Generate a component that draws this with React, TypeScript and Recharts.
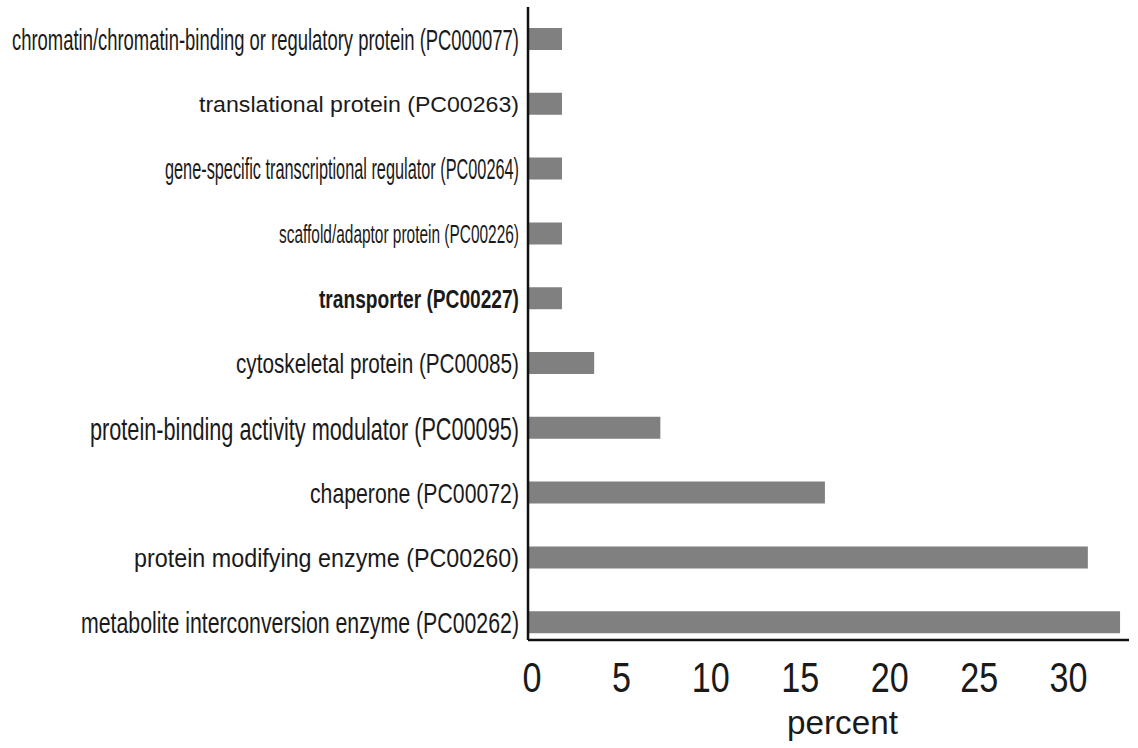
import { BarChart, Bar, XAxis, YAxis } from "recharts";

// ─── Data ─────────────────────────────────────────────────────────────────────

const categories = [
  "chromatin/chromatin-binding or regulatory protein (PC000077)",
  "translational protein (PC00263)",
  "gene-specific transcriptional regulator (PC00264)",
  "scaffold/adaptor protein (PC00226)",
  "transporter (PC00227)",
  "cytoskeletal protein (PC00085)",
  "protein-binding activity modulator (PC00095)",
  "chaperone (PC00072)",
  "protein modifying enzyme (PC00260)",
  "metabolite interconversion enzyme (PC00262)",
];

const percents = [1.9, 1.9, 1.9, 1.9, 1.9, 3.7, 7.4, 16.6, 31.3, 33.1];

const xTicks = [0, 5, 10, 15, 20, 25, 30];

const data = categories.map((name, i) => ({ name, percent: percents[i] }));

// ─── Label styling (the source figure mixes font sizes per row) ───────────────

const FONT = "'Liberation Sans', Arial, sans-serif";

// condensed rows are squeezed with textLength to the widths seen in the figure
const labelStyle = [
  { size: 29, weight: 400, length: 507 },
  { size: 22, weight: 400, length: 320 },
  { size: 29, weight: 400, length: 354 },
  { size: 25, weight: 400, length: 240 },
  { size: 26, weight: 600, length: 200 },
  { size: 28, weight: 400, length: 283 },
  { size: 32, weight: 400, length: 429 },
  { size: 28, weight: 400, length: 209 },
  { size: 25, weight: 400, length: 385 },
  { size: 30, weight: 400, length: 438 },
];

function CategoryTick({ x, y, payload }: any) {
  const i = categories.indexOf(payload.value);
  const s = labelStyle[i] ?? labelStyle[0];
  return (
    <text
      x={x - 1}
      y={y}
      dy="0.36em"
      textAnchor="end"
      fill="#1a1a1a"
      fontFamily={FONT}
      fontSize={s.size}
      fontWeight={s.weight}
      textLength={s.length}
      lengthAdjust="spacingAndGlyphs"
    >
      {payload.value}
    </text>
  );
}

function NumberTick({ x, y, payload }: any) {
  const txt = String(payload.value);
  return (
    <text
      x={x + 4}
      y={y}
      dy="0.71em"
      textAnchor="middle"
      fill="#1a1a1a"
      fontFamily={FONT}
      fontSize={42}
      textLength={19 * txt.length}
      lengthAdjust="spacingAndGlyphs"
    >
      {txt}
    </text>
  );
}

function PercentLabel({ viewBox }: any) {
  const { x, y, width, height } = viewBox;
  return (
    <text
      x={x + width / 2 + 14}
      y={y + height - 14}
      textAnchor="middle"
      fill="#1a1a1a"
      fontFamily={FONT}
      fontSize={34}
      textLength={111}
      lengthAdjust="spacingAndGlyphs"
    >
      percent
    </text>
  );
}

// ─── Component ────────────────────────────────────────────────────────────────

export default function App() {
  return (
    <div style={{ position: "absolute", left: 0, top: 0, width: 1138, height: 748, background: "#fff" }}>
      <BarChart
        width={1138}
        height={748}
        data={data}
        layout="vertical"
        margin={{ top: 7, right: 9, bottom: 0, left: 0 }}
      >
        <XAxis
          type="number"
          domain={[0, 33.6]}
          ticks={xTicks}
          allowDataOverflow
          height={108}
          axisLine={{ stroke: "#111", strokeWidth: 2.5 }}
          tickLine={false}
          tickMargin={16}
          tick={<NumberTick />}
          label={<PercentLabel />}
        />
        <YAxis
          type="category"
          dataKey="name"
          width={528}
          padding={{ top: 0, bottom: -15 }}
          axisLine={{ stroke: "#111", strokeWidth: 2.5 }}
          tickLine={false}
          interval={0}
          tick={<CategoryTick />}
        />
        <Bar dataKey="percent" fill="#808080" barSize={22} isAnimationActive={false} />
      </BarChart>
    </div>
  );
}
